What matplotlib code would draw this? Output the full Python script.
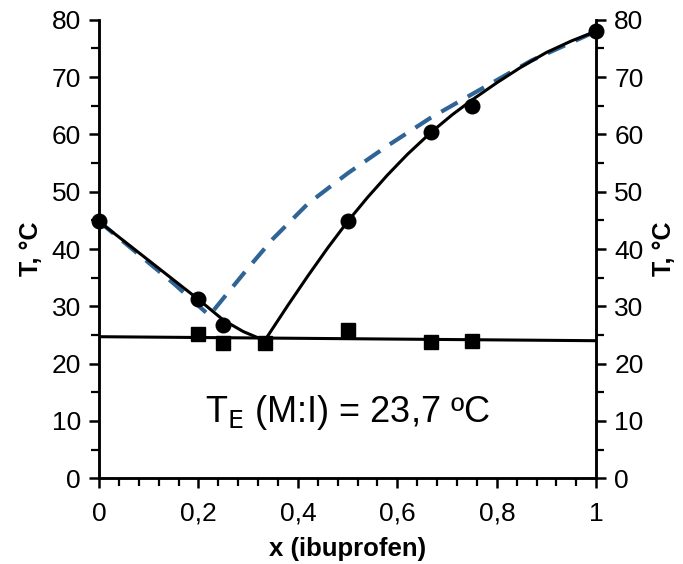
import matplotlib
matplotlib.use('Agg')
import matplotlib.pyplot as plt
from matplotlib.ticker import MultipleLocator, FuncFormatter

plt.rcParams['font.family'] = ['Liberation Sans', 'DejaVu Sans']

# experimental liquidus (circles)
x_liq = [0, 0.2, 0.25, 0.5, 0.667, 0.75, 1.0]
T_liq = [44.8, 31.3, 26.8, 44.8, 60.5, 65.0, 78.0]

# experimental eutectic (squares)
x_eut = [0.2, 0.25, 0.333, 0.5, 0.667, 0.75]
T_eut = [25.1, 23.6, 23.6, 25.8, 23.7, 23.9]

# fitted liquidus, left and right branches
x_fit_l = [0, 0.05, 0.1, 0.15, 0.2, 0.25, 0.29, 0.32]
T_fit_l = [44.8, 41.4, 38.0, 34.6, 31.2, 27.6, 25.6, 24.5]
x_fit_r = [0.333, 0.38, 0.42, 0.46, 0.5, 0.54, 0.58, 0.62, 0.667, 0.71, 0.75,
           0.8, 0.85, 0.9, 0.95, 1.0]
T_fit_r = [24.0, 30.2, 35.3, 40.2, 44.8, 49.0, 52.9, 56.5, 60.3, 63.4, 66.0,
           69.0, 71.8, 74.3, 76.3, 78.0]

# eutectic line
x_eline = [0, 1]
T_eline = [24.7, 24.0]

# ideal solubility (dashed)
x_ideal = [0, 0.05, 0.1, 0.15, 0.2, 0.222, 0.25, 0.3, 0.35, 0.42, 0.5, 0.58,
           0.667, 0.75, 0.87, 1.0]
T_ideal = [44.8, 41.2, 37.6, 34.0, 30.1, 28.4, 31.4, 36.7, 41.8, 47.9, 53.2, 58.0,
           62.9, 67.0, 72.9, 78.0]

fig = plt.figure(figsize=(6.83, 5.64), dpi=100)
ax = fig.add_axes([0.145, 0.152, 0.728, 0.813])
ax_r = ax.twinx()

ax.plot(x_ideal, T_ideal, color='#2F6497', lw=3.0, dashes=(4.5, 2.8), zorder=2)
ax.plot(x_fit_l, T_fit_l, color='black', lw=2.2, zorder=3)
ax.plot(x_fit_r, T_fit_r, color='black', lw=2.2, zorder=3)
ax.plot(x_eline, T_eline, color='black', lw=2.2, zorder=3)
ax.plot(x_liq, T_liq, 'o', color='black', ms=10.5, zorder=4, clip_on=False)
ax.plot(x_eut, T_eut, 's', color='black', ms=10, zorder=4, clip_on=False)

ax.set_xlim(0, 1)
for a in (ax, ax_r):
    a.set_ylim(0, 80)
    a.yaxis.set_major_locator(MultipleLocator(10))
    a.yaxis.set_minor_locator(MultipleLocator(5))
    for s in ['left', 'right', 'bottom']:
        a.spines[s].set_linewidth(1.8)
    a.spines['top'].set_visible(False)
    a.tick_params(axis='both', which='major', labelsize=19, width=1.8, length=7,
                  direction='out', pad=6)
    a.tick_params(axis='both', which='minor', width=1.6, length=6, direction='out')
    a.set_ylabel('T, °C', fontsize=18, fontweight='bold')

ax.xaxis.set_major_locator(MultipleLocator(0.2))
ax.xaxis.set_minor_locator(MultipleLocator(0.04))
ax.xaxis.set_major_formatter(FuncFormatter(lambda v, p: ('%g' % round(v, 2)).replace('.', ',')))
ax.tick_params(axis='x', pad=10)
ax.yaxis.labelpad = 6
ax_r.yaxis.labelpad = 6
ax_r.yaxis.label.set_rotation(90)

ax.set_xlabel('x (ibuprofen)', fontsize=18.5, fontweight='bold', labelpad=8)

ax.text(0.5, 11.5, r'T$_{\mathrm{E}}$ (M:I) = 23,7 ºC', fontsize=26,
        ha='center', va='center')

fig.savefig('out.png', dpi=100)
